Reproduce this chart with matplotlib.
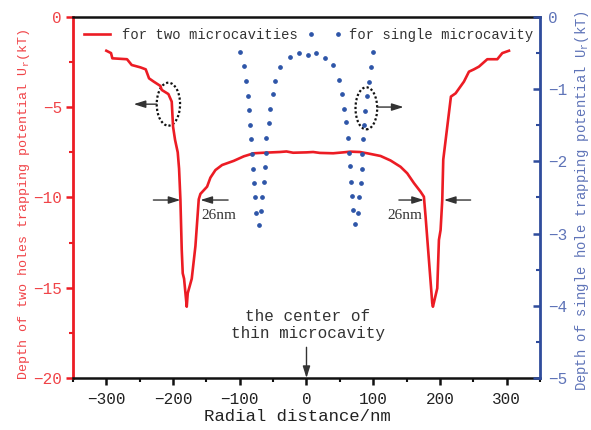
import numpy as np
import matplotlib
matplotlib.use("Agg")
import matplotlib.pyplot as plt
from matplotlib.patches import Ellipse
from matplotlib.ticker import MultipleLocator

plt.rcParams['font.family'] = ['Liberation Mono', 'DejaVu Sans Mono']
plt.rcParams['mathtext.fontset'] = 'custom'
plt.rcParams['mathtext.rm'] = 'Liberation Mono'

# red curve: two microcavities (left axis, kT)
two_x = [-300, -293, -291, -269, -262, -249, -241, -236, -229, -219, -217, -207, -202,
         -200, -197, -193, -191, -189, -187, -185.5, -183.5, -179.5, -178, -172, -166.5,
         -161.5, -159, -149, -144, -136.5, -126.5, -109, -94, -79, -64, -40, -30, -20,
         0, 10, 20, 40, 55, 66, 80, 91, 111, 126, 141, 151, 161, 171, 176, 178.5, 183.5,
         188.5, 189.5, 196, 198.5, 201, 203.5, 205, 216.5, 223.5, 236, 243.5, 251, 258.5,
         271, 286, 293.5, 303.5]
two_y = [-1.87, -2.0, -2.29, -2.34, -2.66, -2.79, -2.9, -3.4, -3.58, -3.82, -4.04, -4.27, -4.69,
         -6.08, -6.81, -7.5, -8.4, -10.1, -12.9, -14.2, -14.5, -16.05, -15.3, -14.5, -12.7,
         -10.1, -9.8, -9.4, -8.9, -8.48, -8.2, -7.97, -7.72, -7.55, -7.52, -7.48, -7.45, -7.52,
         -7.5, -7.48, -7.53, -7.55, -7.5, -7.46, -7.48, -7.55, -7.7, -7.95, -8.3, -8.66, -9.2,
         -9.68, -9.96, -11.06, -13.46, -15.86, -16.05, -15.03, -12.35, -11.8, -10.14, -7.9,
         -4.41, -4.23, -3.58, -3.03, -2.9, -2.75, -2.34, -2.34, -2.0, -1.87]

# blue dots: single microcavity (right axis, kT)
one_x = [-99, -94, -91, -88, -85.5, -84, -82.5, -81, -80.5, -79, -77.5, -75.5, -71.5,
         -67.5, -66, -64, -62.5, -61, -60.5, -56.5, -54, -50.5, -46.5, -39, -25, -11,
         2, 14.5, 28, 40, 49, 53.5, 56.5, 59, 61.5, 63.5, 64.5, 66.5, 68, 70, 72.5,
         77.5, 79, 81, 82.5, 83.5, 84.5, 86, 87.5, 90, 93.5, 97, 100]
one_y = [-0.49, -0.68, -0.89, -1.09, -1.29, -1.50, -1.69, -1.90, -2.11, -2.30, -2.50, -2.71, -2.88,
         -2.69, -2.49, -2.28, -2.08, -1.88, -1.67, -1.47, -1.27, -1.06, -0.88, -0.69, -0.56, -0.50,
         -0.53, -0.50, -0.57, -0.67, -0.87, -1.06, -1.27, -1.46, -1.67, -1.88, -2.07, -2.28, -2.48,
         -2.68, -2.87,
         -2.71, -2.50, -2.30, -2.11, -1.90, -1.69, -1.50, -1.30, -1.10, -0.90, -0.69, -0.49]

red = '#EC1C24'
red_txt = '#F04448'
blue = '#2F4C9C'
blue_txt = '#5F74B8'
dot_col = '#2E55A8'

fig = plt.figure(figsize=(5.91, 4.30), dpi=100)
ax1 = fig.add_axes([0.1235, 0.1209, 0.7902, 0.8396])
ax2 = ax1.twinx()

l1, = ax1.plot(two_x, two_y, color=red, lw=1.9, label='for two microcavities')
l2, = ax2.plot(one_x, one_y, ls='none', marker='o', ms=2.4, color=dot_col,
               label='for single microcavity')

ax1.set_xlim(-350, 350)
ax1.set_ylim(-20, 0)
ax2.set_ylim(-5, 0)

ax1.xaxis.set_major_locator(MultipleLocator(100))
ax1.xaxis.set_minor_locator(MultipleLocator(50))
ax1.yaxis.set_major_locator(MultipleLocator(5))
ax1.yaxis.set_minor_locator(MultipleLocator(2.5))
ax2.yaxis.set_major_locator(MultipleLocator(1))
ax2.yaxis.set_minor_locator(MultipleLocator(0.5))

for s in ['top', 'bottom']:
    ax1.spines[s].set_linewidth(1.8)
    ax1.spines[s].set_color('#111111')
ax1.spines['left'].set_color(red)
ax1.spines['left'].set_linewidth(2.0)
ax1.spines['right'].set_visible(False)
for s in ['left', 'top', 'bottom']:
    ax2.spines[s].set_visible(False)
ax2.spines['right'].set_color(blue)
ax2.spines['right'].set_linewidth(2.0)

ax1.tick_params(axis='x', which='major', direction='out', length=5, width=1.8,
                labelsize=11.5, pad=5, colors='#111111', labelcolor='#222222')
ax1.tick_params(axis='x', which='minor', direction='out', length=3, width=1.5, colors='#111111')
ax1.tick_params(axis='y', which='major', direction='out', length=5, width=1.8,
                labelsize=11.5, pad=3, colors=red, labelcolor=red_txt)
ax1.tick_params(axis='y', which='minor', direction='out', length=3, width=1.5, colors=red)
ax2.tick_params(axis='y', which='major', direction='in', length=5, width=1.8,
                labelsize=11.5, pad=6, colors=blue, labelcolor=blue_txt)
ax2.tick_params(axis='y', which='minor', direction='in', length=3, width=1.5, colors=blue)

ax1.set_xlabel('Radial distance/nm', fontsize=12.5, color='#222222')
ax1.xaxis.set_label_coords(0.48, -0.085)
ax1.set_ylabel('Depth of two holes trapping potential U$_\\mathrm{r}$(kT)', fontsize=9.6, color=red_txt)
ax1.yaxis.set_label_coords(-0.088, 0.48)
ax2.set_ylabel('Depth of single hole trapping potential U$_\\mathrm{r}$(kT)', fontsize=10, color=blue_txt)
ax2.yaxis.set_label_coords(1.071, 0.49)

leg = ax1.legend([l1, l2], [l1.get_label(), l2.get_label()], loc='upper left',
                 bbox_to_anchor=(-0.012, 1.005), ncol=2, frameon=False, fontsize=10,
                 handlelength=2.5, handletextpad=0.5, columnspacing=0.7, numpoints=2)
for t in leg.get_texts():
    t.set_color('#333333')

# dotted ellipses and pointer arrows
ell_kw = dict(fill=False, edgecolor='#111111', lw=1.6, ls=(0, (1, 1)))
ax1.add_patch(Ellipse((-207, -4.83), 35, 2.38, **ell_kw))
ax1.add_patch(Ellipse((89.7, -5.06), 32.5, 2.33, **ell_kw))

arr = dict(arrowstyle='-|>,head_length=0.7,head_width=0.22', color='#333333', lw=1.0,
           shrinkA=0, shrinkB=0)
ax1.annotate('', xy=(-259, -4.83), xytext=(-224.5, -4.83), arrowprops=arr)
ax1.annotate('', xy=(145.5, -4.99), xytext=(106, -4.99), arrowprops=arr)

# 26nm width markers
ax1.annotate('', xy=(-189, -10.14), xytext=(-229.5, -10.14), arrowprops=arr)
ax1.annotate('', xy=(-159, -10.14), xytext=(-117.5, -10.14), arrowprops=arr)
ax1.annotate('', xy=(176, -10.14), xytext=(138.5, -10.14), arrowprops=arr)
ax1.annotate('', xy=(206, -10.14), xytext=(246, -10.14), arrowprops=arr)
ax1.text(-157, -11.0, '26nm', family='Liberation Serif', fontsize=11, color='#333333',
         ha='left', va='center')
ax1.text(173.5, -11.0, '26nm', family='Liberation Serif', fontsize=11, color='#333333',
         ha='right', va='center')

ax1.text(2, -17.05, 'the center of\nthin microcavity', fontsize=11.5, color='#333333',
         ha='center', va='center', multialignment='center')
ax1.annotate('', xy=(0, -20), xytext=(0, -18.3), arrowprops=arr)

fig.savefig('out.png', dpi=100)
